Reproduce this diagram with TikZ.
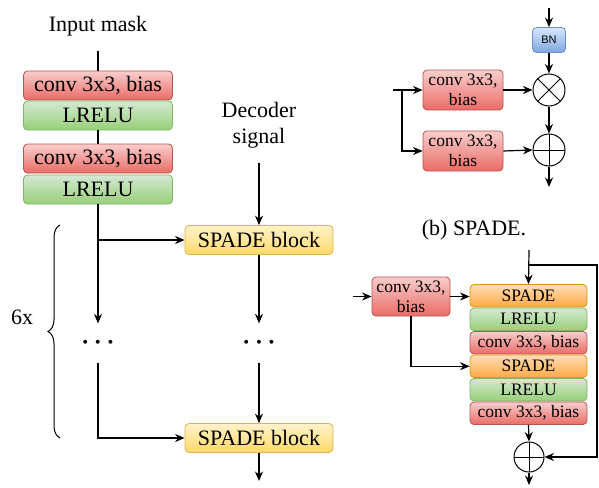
\documentclass[tikz,border=0pt]{standalone}
\usepackage{fontspec}
\setmainfont{Liberation Serif}
\newfontfamily\bnfont{Liberation Sans}
\usetikzlibrary{arrows.meta, decorations.pathreplacing}

\definecolor{convtop}{HTML}{F8CECC}
\definecolor{convbot}{HTML}{EA6B66}
\definecolor{convline}{HTML}{B85450}
\definecolor{relutop}{HTML}{D5E8D4}
\definecolor{relubot}{HTML}{97D077}
\definecolor{reluline}{HTML}{82B366}
\definecolor{spadetop}{HTML}{FFF2CC}
\definecolor{spadebot}{HTML}{FFD966}
\definecolor{spadeline}{HTML}{D6B656}
\definecolor{orgtop}{HTML}{FFDCB8}
\definecolor{orgbot}{HTML}{FFAA44}
\definecolor{orgline}{HTML}{D79B00}
\definecolor{bntop}{HTML}{DAE8FC}
\definecolor{bnbot}{HTML}{7EA6E0}
\definecolor{bnline}{HTML}{6C8EBF}

\begin{document}
\begin{tikzpicture}[x=1pt, y=-1pt,
      >={Stealth[length=9.5pt,width=8pt]},
      line width=1.2pt,
      big/.style={font=\fontsize{22}{26}\selectfont},
      small/.style={font=\fontsize{17.5}{20}\selectfont},
      blk/.style={rectangle, rounded corners=4pt, line width=0.8pt, inner sep=0pt, align=center},
      convblk/.style={blk, draw=convline, top color=convtop, bottom color=convbot},
      relublk/.style={blk, draw=reluline, top color=relutop, bottom color=relubot},
      spadeblk/.style={blk, draw=spadeline, top color=spadetop, bottom color=spadebot},
      orgblk/.style={blk, draw=orgline, top color=orgtop, bottom color=orgbot},
      bnblk/.style={blk, draw=bnline, top color=bntop, bottom color=bnbot, font=\bnfont\fontsize{11}{13}\selectfont},
      wide/.style={minimum width=149pt, minimum height=29pt, big},
      stack/.style={minimum width=117pt, minimum height=22.5pt, small},
      sidec/.style={convblk, minimum width=80pt, minimum height=40pt, small},
      sumnode/.style={circle, draw, line width=1pt, minimum size=#1, inner sep=0pt},
      oplusnode/.style={sumnode=#1, path picture={
        \draw (path picture bounding box.north) -- (path picture bounding box.south)
              (path picture bounding box.west) -- (path picture bounding box.east);}},
      otimesnode/.style={sumnode=#1, path picture={
        \draw (path picture bounding box.north west) -- (path picture bounding box.south east)
              (path picture bounding box.south west) -- (path picture bounding box.north east);}},
      dotsnode/.style={minimum height=38pt, inner sep=0pt, font=\fontsize{32}{32}\selectfont\boldmath}]
  \useasboundingbox (0,0) rectangle (599,487);

  % (a) generator branch
  \node[big] (inmask) at (98,26) {Input mask};
  \coordinate (intop) at (98,51);
  \node[convblk, wide] (conva) at (98,85.5) {conv 3x3, bias};
  \node[relublk, wide] (relua) at (98,115.5) {LRELU};
  \node[convblk, wide] (convb) at (98,158.5) {conv 3x3, bias};
  \node[relublk, wide] (relub) at (98,189.5) {LRELU};
  \node[dotsnode] (dotsL) at (98,343) {$\cdots$};

  \node[big, align=center] (dec) at (259,125) {Decoder\\signal};
  \coordinate (dectop) at (259,163);
  \node[spadeblk, wide, minimum width=148pt] (spadea) at (259,240) {SPADE block};
  \node[dotsnode] (dotsR) at (259,343) {$\cdots$};
  \node[spadeblk, wide, minimum width=148pt] (spadeb) at (259,438) {SPADE block};
  \coordinate (decout) at (259,481);

  \draw (intop) -- (conva.north);
  \draw (relua.south) -- (convb.north);
  \draw[->] (relub.south) -- (dotsL.north);
  \draw[->] (relub.south |- spadea.west) -- (spadea.west);
  \draw[->] (dotsL.south) |- (spadeb.west);
  \draw[->] (dectop) -- (spadea.north);
  \draw[->] (spadea.south) -- (dotsR.north);
  \draw[->] (dotsR.south) -- (spadeb.north);
  \draw[->] (spadeb.south) -- (decout);

  \coordinate (brbot) at (60,438);
  \coordinate (brtop) at (60,225);
  \draw[decorate, decoration={brace, amplitude=12pt}, line width=1pt] (brbot) -- (brtop);
  \node[big] (rep) at (22,317) {6x};

  % (b) SPADE
  \coordinate (bntop) at (549,8);
  \node[bnblk, minimum width=33pt, minimum height=25pt] (bn) at (549,40) {BN};
  \node[otimesnode=32pt] (mul) at (549,90) {};
  \node[oplusnode=32pt] (add) at (549,150) {};
  \node[sidec] (gam) at (463,90) {conv 3x3,\\bias};
  \node[sidec] (bet) at (463,151) {conv 3x3,\\bias};
  \coordinate (segin) at (393,90);
  \coordinate (segsplit) at (402,90);
  \coordinate (spout) at (549,187);

  \draw[->] (bntop) -- (bn.north);
  \draw[->] (bn.south) -- (mul.north);
  \draw[->] (mul.south) -- (add.north);
  \draw[->] (add.south) -- (spout);
  \draw[->] (segin) -- (gam.west);
  \draw[->] (segsplit) |- (bet.west);
  \draw[->] (gam.east) -- (mul.west);
  \draw[->] (bet.east) -- (add.west);

  \node[big] (capb) at (474,230) {(b) SPADE.};

  % (c) SPADE block
  \node[sidec, minimum width=78pt, minimum height=39pt] (seg) at (411,296.5) {conv 3x3,\\bias};
  \coordinate (segin2) at (353,296.5);
  \node[orgblk, stack] (sp1) at (528.5,295.75) {SPADE};
  \node[relublk, stack] (lr1) at (528.5,319.25) {LRELU};
  \node[convblk, stack] (cv1) at (528.5,342.75) {conv 3x3, bias};
  \node[orgblk, stack] (sp2) at (528.5,366.25) {SPADE};
  \node[relublk, stack] (lr2) at (528.5,389.75) {LRELU};
  \node[convblk, stack] (cv2) at (528.5,413.25) {conv 3x3, bias};
  \node[oplusnode=30pt] (res) at (529,457) {};
  \coordinate (xin) at (529,250);
  \coordinate (xsplit) at (529,265);
  \coordinate (skip) at (597,265);
  \coordinate (blkout) at (529,485);

  \draw[->] (segin2) -- (seg.west);
  \draw[->] (seg.east) -- (seg.east -| sp1.west);
  \draw[->] (seg.south) |- (sp2.west);
  \draw[->] (xin) -- (sp1.north);
  \draw[->] (xsplit) -- (skip) |- (res.east);
  \draw[->] (cv2.south) -- (res.north);
  \draw[->] (res.south) -- (blkout);
\end{tikzpicture}
\end{document}
